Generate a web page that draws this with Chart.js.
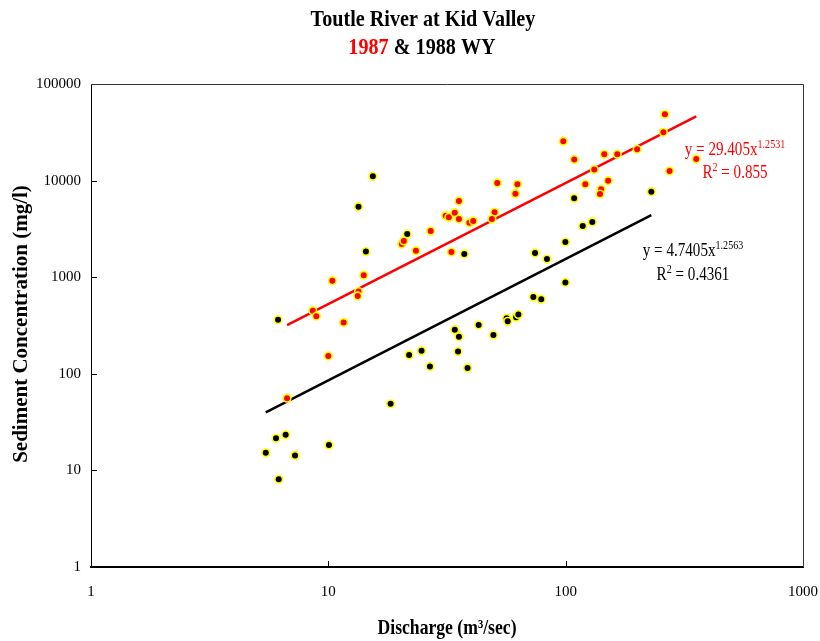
<!DOCTYPE html>
<html>
<head>
<meta charset="utf-8">
<script src="https://cdn.jsdelivr.net/npm/chart.js@4.4.1/dist/chart.umd.min.js"></script>
<style>
  html, body { margin: 0; padding: 0; background: #fff; }
  #wrap { width: 820px; height: 641px; position: relative; }
</style>
</head>
<body>
<div id="wrap"><canvas id="chart"></canvas></div>
<script>
// Water year 1987 samples: discharge (m3/sec) and sediment concentration (mg/l)
const discharge1987 = [6.7, 8.6, 8.9, 10.0, 10.4, 11.6, 13.4, 13.3, 14.1, 20.4, 20.8, 23.4, 27.0, 31.2, 32.2, 34.1, 35.5, 35.5, 33.0, 39.3, 40.8, 50.2, 48.9, 51.5, 62.6, 61.4, 97.7, 108.7, 121, 132, 145.5, 151, 141, 139.5, 165, 200, 258, 262, 274, 355];
const sediment1987  = [56, 450, 395, 153, 920, 340, 710, 640, 1050, 2200, 2370, 1880, 3000, 4330, 4170, 4650, 6150, 4000, 1820, 3670, 3820, 4700, 4000, 9450, 9160, 7320, 25500, 16500, 9180, 13000, 18700, 9980, 8120, 7270, 18700, 21100, 31600, 48600, 12600, 16700];

// Water year 1988 samples
const discharge1988 = [5.45, 6.02, 6.61, 6.18, 7.24, 6.14, 10.06, 13.4, 15.4, 14.4, 21.5, 18.3, 21.9, 24.7, 26.8, 34.1, 35.5, 35.2, 38.6, 37.4, 43.0, 49.6, 56.4, 57.0, 61.8, 63.2, 73.1, 78.9, 74.3, 83.4, 99.7, 99.7, 118, 129.5, 108.6, 229.6];
const sediment1988  = [15.2, 21.5, 23.4, 8.1, 14.3, 363, 18.3, 5370, 11080, 1840, 2800, 49, 157, 173, 119, 286, 242, 170, 115, 1740, 320, 252, 375, 349, 385, 411, 624, 590, 1780, 1540, 2310, 881, 3390, 3730, 6560, 7680];

// Power-law fits y = a * x^b, with R²
const fit1987 = [29.405, 1.2531, 0.855];
const fit1988 = [4.7405, 1.2563, 0.4361];

const xTicks = [1, 10, 100, 1000];
const yTicks = [1, 10, 100, 1000, 10000, 100000];

const SERIF = '"Liberation Serif", "Times New Roman", serif';
const SQUEEZE = 0.84;

function pairs(xs, ys) { return xs.map((x, i) => ({ x: x, y: ys[i] })); }
function fitLine(xs, fit) {
  const lo = Math.min(...xs), hi = Math.max(...xs);
  return [lo, hi].map(x => ({ x: x, y: fit[0] * Math.pow(x, fit[1]) }));
}

// Horizontally condensed text runs: [[text, color], ...] centred on cx
function drawRuns(ctx, runs, cx, baseline, font) {
  ctx.save();
  ctx.font = font;
  ctx.textBaseline = 'alphabetic';
  ctx.textAlign = 'left';
  const widths = runs.map(r => ctx.measureText(r[0]).width);
  const total = widths.reduce((a, b) => a + b, 0) * SQUEEZE;
  ctx.translate(cx - total / 2, baseline);
  ctx.scale(SQUEEZE, 1);
  let x = 0;
  runs.forEach((r, i) => { ctx.fillStyle = r[1]; ctx.fillText(r[0], x, 0); x += widths[i]; });
  ctx.restore();
}

// Text followed by a small raised part, e.g. "y = ax" + exponent, centred on cx
function drawWithSuper(ctx, parts, cx, baseline, color) {
  ctx.save();
  const big = '18px ' + SERIF, small = '12px ' + SERIF;
  const widths = parts.map(p => { ctx.font = p[1] ? small : big; return ctx.measureText(p[0]).width; });
  const total = widths.reduce((a, b) => a + b, 0) * SQUEEZE;
  ctx.translate(cx - total / 2, baseline);
  ctx.scale(SQUEEZE, 1);
  ctx.fillStyle = color;
  ctx.textBaseline = 'alphabetic';
  ctx.textAlign = 'left';
  let x = 0;
  parts.forEach((p, i) => {
    ctx.font = p[1] ? small : big;
    ctx.fillText(p[0], x, p[1] ? -7 : 0);
    x += widths[i];
  });
  ctx.restore();
}

const decorations = {
  id: 'decorations',
  afterDraw(chart) {
    const ctx = chart.ctx;
    const a = chart.chartArea;
    const xs = chart.scales.x, ys = chart.scales.y;

    // plot frame: top and right edges
    ctx.save();
    ctx.strokeStyle = '#333';
    ctx.lineWidth = 1;
    ctx.beginPath();
    ctx.moveTo(a.left, a.top + 0.5);
    ctx.lineTo(a.right + 0.5, a.top + 0.5);
    ctx.lineTo(a.right + 0.5, a.bottom);
    ctx.stroke();

    // inward tick marks
    ctx.strokeStyle = '#000';
    ctx.beginPath();
    xTicks.slice(1, -1).forEach(v => {
      const px = Math.round(xs.getPixelForValue(v)) + 0.5;
      ctx.moveTo(px, a.bottom); ctx.lineTo(px, a.bottom - 6);
    });
    yTicks.slice(1, -1).forEach(v => {
      const py = Math.round(ys.getPixelForValue(v)) + 0.5;
      ctx.moveTo(a.left, py); ctx.lineTo(a.left + 6, py);
    });
    ctx.stroke();
    ctx.restore();

    // chart title
    drawRuns(ctx, [['Toutle River at Kid Valley', '#000']], 423, 26, 'bold 24px ' + SERIF);
    drawRuns(ctx, [['1987', '#ff0000'], [' & 1988 WY', '#000']], 422, 54, 'bold 24px ' + SERIF);

    // axis titles
    drawRuns(ctx, [['Discharge (m\u00B3/sec)', '#000']], 447, 634, 'bold 21px ' + SERIF);
    ctx.save();
    ctx.translate(27, 324);
    ctx.rotate(-Math.PI / 2);
    ctx.font = 'bold 21px ' + SERIF;
    ctx.fillStyle = '#000';
    ctx.textAlign = 'center';
    ctx.textBaseline = 'alphabetic';
    ctx.fillText('Sediment Concentration (mg/l)', 0, 0);
    ctx.restore();

    // fit equations
    drawWithSuper(ctx, [['y = ' + fit1987[0] + 'x', false], [String(fit1987[1]), true]], 735, 155, '#ff0000');
    drawWithSuper(ctx, [['R', false], ['2', true], [' = ' + fit1987[2], false]], 735, 178, '#ff0000');
    drawWithSuper(ctx, [['y = ' + fit1988[0] + 'x', false], [String(fit1988[1]), true]], 693, 256, '#000');
    drawWithSuper(ctx, [['R', false], ['2', true], [' = ' + fit1988[2], false]], 693, 280, '#000');
  }
};

new Chart(document.getElementById('chart'), {
  type: 'scatter',
  data: {
    datasets: [
      {
        label: '1987',
        data: pairs(discharge1987, sediment1987),
        backgroundColor: '#ff0000',
        borderColor: '#ffff00',
        borderWidth: 1.6,
        pointRadius: 3.8,
        order: 1
      },
      {
        label: '1988',
        data: pairs(discharge1988, sediment1988),
        backgroundColor: '#000000',
        borderColor: '#ffff00',
        borderWidth: 1.6,
        pointRadius: 3.8,
        order: 2
      },
      {
        label: '1987 fit',
        data: fitLine(discharge1987, fit1987),
        showLine: true,
        borderColor: '#ff0000',
        borderWidth: 2.5,
        pointRadius: 0,
        order: 5
      },
      {
        label: '1988 fit',
        data: fitLine(discharge1988, fit1988),
        showLine: true,
        borderColor: '#000000',
        borderWidth: 2.5,
        pointRadius: 0,
        order: 6
      }
    ]
  },
  options: {
    responsive: true,
    maintainAspectRatio: false,
    animation: false,
    events: [],
    layout: { padding: { left: 0, right: 17, top: 84, bottom: 0 } },
    plugins: { legend: { display: false }, tooltip: { enabled: false }, title: { display: false } },
    scales: {
      x: {
        type: 'logarithmic',
        min: 1, max: 1000,
        afterBuildTicks: s => { s.ticks = xTicks.map(v => ({ value: v })); },
        afterFit: s => { s.height = 74; s.paddingLeft = 0; s.paddingRight = 0; },
        grid: { display: false, drawTicks: false },
        border: { display: true, color: '#000', width: 2 },
        ticks: { color: '#000', font: { family: SERIF, size: 15 }, padding: 16, maxRotation: 0, autoSkip: false, callback: v => String(v) }
      },
      y: {
        type: 'logarithmic',
        min: 1, max: 100000,
        afterBuildTicks: s => { s.ticks = yTicks.map(v => ({ value: v })); },
        afterFit: s => { s.width = 91; s.paddingTop = 0; s.paddingBottom = 0; },
        grid: { display: false, drawTicks: false },
        border: { display: true, color: '#000', width: 1 },
        ticks: { color: '#000', font: { family: SERIF, size: 15 }, padding: 10, autoSkip: false, callback: v => String(v) }
      }
    }
  },
  plugins: [decorations]
});
</script>
</body>
</html>
